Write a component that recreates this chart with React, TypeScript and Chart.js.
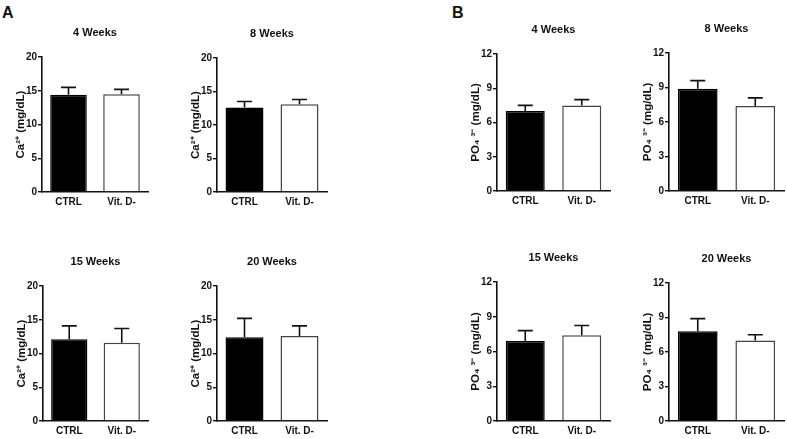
import React, { useEffect, useRef } from "react";
import { Chart, registerables } from "chart.js";

Chart.register(...registerables);

const categories = ["CTRL", "Vit. D-"];
const caTitles = ["4 Weeks", "8 Weeks", "15 Weeks", "20 Weeks"];
const caMeans = [
  [14.4, 14.5],
  [12.6, 13.1],
  [12.1, 11.6],
  [12.4, 12.6],
];
const caUpper = [
  [15.5, 15.2],
  [13.5, 13.8],
  [14.1, 13.7],
  [15.2, 14.1],
];
const poTitles = ["4 Weeks", "8 Weeks", "15 Weeks", "20 Weeks"];
const poMeans = [
  [7.0, 7.5],
  [8.9, 7.4],
  [6.9, 7.4],
  [7.8, 7.0],
];
const poUpper = [
  [7.5, 8.0],
  [9.6, 8.1],
  [7.8, 8.25],
  [8.9, 7.5],
];
const caLabel = "Ca²⁺ (mg/dL)";
const poLabel = "PO₄ ³⁻ (mg/dL)";

const FONT = "'Liberation Sans', Arial, sans-serif";
const Y_W = 38;
const TITLE_H = 34;
const X_H = 22;
const PAD_R = 3;

type PanelBox = { l: number; r: number; t: number; b: number };

const caBoxes: PanelBox[] = [
  { l: 42, r: 148, t: 57, b: 192 },
  { l: 217, r: 327, t: 58, b: 192 },
  { l: 43, r: 148, t: 286, b: 421 },
  { l: 217, r: 327, t: 286, b: 421 },
];
const poBoxes: PanelBox[] = [
  { l: 497, r: 610, t: 54, b: 191 },
  { l: 669, r: 784, t: 53, b: 191 },
  { l: 497, r: 610, t: 282, b: 421 },
  { l: 669, r: 784, t: 283, b: 421 },
];

const errorBarPlugin = {
  id: "errorBars",
  afterDatasetsDraw(chart: any) {
    const upper: number[] = chart.options.plugins.errorBars.upper;
    const meta = chart.getDatasetMeta(0);
    const yScale = chart.scales.y;
    const ctx = chart.ctx;
    ctx.save();
    ctx.strokeStyle = "#111";
    ctx.lineWidth = 1.6;
    meta.data.forEach((bar: any, i: number) => {
      const yTop = yScale.getPixelForValue(upper[i]);
      const x = bar.x;
      ctx.beginPath();
      ctx.moveTo(x, bar.y);
      ctx.lineTo(x, yTop);
      ctx.moveTo(x - 7.5, yTop);
      ctx.lineTo(x + 7.5, yTop);
      ctx.stroke();
    });
    ctx.restore();
  },
};

function Panel(props: {
  box: PanelBox;
  title: string;
  means: number[];
  upper: number[];
  yMax: number;
  step: number;
  yLabel: string;
}) {
  const ref = useRef<HTMLCanvasElement>(null);
  const { box } = props;
  const left = box.l - Y_W;
  const top = box.t - TITLE_H;
  const width = box.r - box.l + Y_W + PAD_R;
  const height = box.b - box.t + TITLE_H + X_H;

  useEffect(() => {
    if (!ref.current) return;
    const chart = new Chart(ref.current, {
      type: "bar",
      data: {
        labels: categories,
        datasets: [
          {
            data: props.means,
            backgroundColor: ["#000000", "#ffffff"],
            borderColor: ["#000000", "#444444"],
            borderWidth: 1.5,
            barPercentage: 0.69,
            categoryPercentage: 1,
          },
        ],
      },
      options: {
        animation: false,
        responsive: false,
        maintainAspectRatio: false,
        layout: { padding: { left: 0, right: PAD_R, top: 0, bottom: 0 } },
        plugins: {
          legend: { display: false },
          tooltip: { enabled: false },
          title: {
            display: true,
            text: props.title,
            fullSize: false,
            color: "#111",
            font: { family: FONT, size: 11, weight: "bold", lineHeight: 1.2 },
            padding: { top: 3.4, bottom: 17.4 },
          },
          errorBars: { upper: props.upper },
        } as any,
        scales: {
          x: {
            grid: { display: false, drawTicks: false },
            border: { display: true, color: "#111", width: 1.6 },
            ticks: {
              color: "#111",
              padding: 4,
              font: { family: FONT, size: 10, weight: "bold" },
            },
            afterFit: (s: any) => {
              s.height = X_H;
            },
          },
          y: {
            min: 0,
            max: props.yMax,
            grid: {
              display: true,
              drawOnChartArea: false,
              drawTicks: true,
              tickLength: 4,
              color: "#111",
              lineWidth: 1.4,
            },
            border: { display: true, color: "#111", width: 1.6 },
            ticks: {
              stepSize: props.step,
              color: "#111",
              padding: 1,
              font: { family: FONT, size: 10, weight: "bold" },
            },
            title: {
              display: true,
              text: props.yLabel,
              color: "#111",
              font: { family: FONT, size: 11.5, weight: "bold", lineHeight: 1.2 },
              padding: { top: 10, bottom: 0 },
            },
            afterFit: (s: any) => {
              s.width = Y_W;
            },
          },
        },
      },
      plugins: [errorBarPlugin],
    });
    return () => chart.destroy();
  }, []);

  return (
    <canvas
      ref={ref}
      width={width}
      height={height}
      style={{ position: "absolute", left, top, width, height }}
    />
  );
}

export default function App() {
  const labelStyle: React.CSSProperties = {
    position: "absolute",
    fontFamily: FONT,
    fontWeight: "bold",
    fontSize: 16,
    lineHeight: "16px",
    color: "#111",
  };
  return (
    <div
      style={{
        position: "fixed",
        left: 0,
        top: 0,
        width: 787,
        height: 439,
        background: "#ffffff",
        overflow: "hidden",
      }}
    >
      <div style={{ ...labelStyle, left: 2, top: 5 }}>A</div>
      <div style={{ ...labelStyle, left: 452, top: 5 }}>B</div>
      {caBoxes.map((b, i) => (
        <Panel
          key={"ca" + i}
          box={b}
          title={caTitles[i]}
          means={caMeans[i]}
          upper={caUpper[i]}
          yMax={20}
          step={5}
          yLabel={caLabel}
        />
      ))}
      {poBoxes.map((b, i) => (
        <Panel
          key={"po" + i}
          box={b}
          title={poTitles[i]}
          means={poMeans[i]}
          upper={poUpper[i]}
          yMax={12}
          step={3}
          yLabel={poLabel}
        />
      ))}
    </div>
  );
}
